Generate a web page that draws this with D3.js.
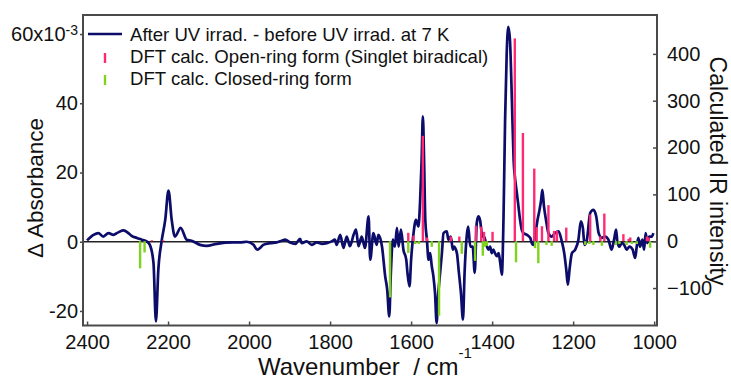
<!DOCTYPE html>
<html>
<head>
<meta charset="utf-8">
<script src="https://cdn.jsdelivr.net/npm/d3@7"></script>
<style>
  body { margin: 0; background: #fff; }
  text { font-family: 'Liberation Sans', Arial, sans-serif; fill: #111; }
</style>
</head>
<body>
<div id="chart"></div>
<script>
// measured spectrum: wavenumber (cm-1) and delta absorbance (x10^-3)
const specWn = [2400, 2384, 2372, 2360, 2347, 2335, 2323, 2310, 2298, 2290, 2277, 2265, 2253, 2245, 2236, 2230, 2224, 2216, 2207, 2199,
  2191, 2183, 2169, 2154, 2142, 2121, 2105, 2080, 2039, 2022, 2006, 1989, 1980, 1973, 1965, 1948, 1932, 1919, 1911, 1899,
  1886, 1874, 1870, 1858, 1845, 1833, 1821, 1808, 1796, 1788, 1784, 1775, 1767, 1759, 1751, 1742, 1736, 1730, 1722, 1714,
  1705, 1701, 1693, 1685, 1681, 1672, 1664, 1659, 1654, 1650, 1645, 1640, 1635, 1631, 1625, 1619, 1612, 1609, 1604, 1600,
  1594, 1588, 1582, 1578, 1574, 1571, 1568, 1565, 1561, 1557, 1553, 1549, 1545, 1541, 1537, 1534, 1530, 1524, 1520, 1512,
  1508, 1502, 1497, 1494, 1487, 1482, 1477, 1472, 1468, 1462, 1459, 1454, 1448, 1443, 1438, 1434, 1430, 1424, 1420, 1413,
  1409, 1405, 1401, 1397, 1393, 1388, 1384, 1380, 1376, 1372, 1368, 1364, 1360, 1356, 1351, 1347, 1343, 1339, 1335, 1331,
  1327, 1323, 1314, 1306, 1302, 1298, 1294, 1288, 1283, 1279, 1276, 1272, 1267, 1261, 1253, 1245, 1236, 1228, 1222, 1217,
  1213, 1209, 1203, 1195, 1187, 1181, 1176, 1172, 1166, 1158, 1150, 1143, 1137, 1129, 1121, 1113, 1105, 1099, 1094, 1091,
  1086, 1080, 1074, 1068, 1061, 1053, 1047, 1043, 1039, 1035, 1029, 1025, 1021, 1017, 1012, 1006, 1002];
const specAbs = [0.4, 2.0, 2.5, 1.5, 2.5, 2.0, 2.7, 3.3, 2.5, 1.7, 1.1, 0.6, 0.1, -0.9, -6.1, -23, -8, 0.1, 6.3, 14.8,
  6.3, 1.5, 4.0, 0.6, 0.3, -0.9, -1.2, -0.6, -0.2, -0.2, 0.0, -0.9, -2.3, -1.8, -0.9, -0.4, -0.2, 0.3, 0.6, -0.2,
  -0.6, 0.8, -0.4, 0.1, -0.9, -0.2, -0.6, -0.4, 0.1, 0.6, -0.9, 2.0, -1.8, 1.5, -1.3, 2.0, 3.5, -1.3, 1.5, -1.8,
  7.3, -5.2, 2.5, -0.9, 2.0, -1.3, -10, -13.9, -21.6, -9, 0.6, -1.4, 4.0, -1.4, 3.5, -2.3, -5.2, -9, -12.9, -5.2,
  2.5, 6.3, 4.4, 11.2, 23.7, 36.2, 23.7, 6.3, 0.6, -5.2, -3.3, -7.1, -10, -14.8, -23.5, -16.7, -11, -3.3, 2.5, 3.0,
  0.6, 1.5, -2.3, -1.4, -3.3, -9, -14.8, -22.5, -9, 2.5, 4.4, -1.4, -1.4, -9, 5.4, 7.3, 6.3, 1.5, 1.5, -1.4,
  -2.3, -1.4, -3.3, -2.3, -3.3, -4.2, -3.3, -6.1, -9.5, 6.3, 35.2, 54.5, 62.1, 58.3, 40, 23.7, 17.9, 14.1, 10.2, 6.3,
  3.5, 2.5, 2.0, 1.1, -0.4, -0.9, 1.5, 6.3, 9.2, 12.1, 15, 10.2, 6.3, 2.5, 1.5, 2.5, 3.0, 0.1, -3.3, -8.1,
  -12.4, -8.1, -3.3, -2.3, 0.6, 5.9, 4.0, -0.9, 0.6, 8.3, 9.2, 7.3, 2.5, 1.1, 1.5, 0.6, -2.3, 0.6, 3.5, 0.1,
  -1.4, -0.4, -0.9, -2.3, -1.4, -2.3, -4.7, -1.4, 1.1, -1.4, 0.6, -2.3, 2.5, -0.4, 1.5, 1.5, 2.5];

// DFT open-ring form (singlet biradical), calculated IR intensity
const openWn = [2240, 2212, 1607, 1594, 1571, 1561, 1502, 1481, 1440, 1427, 1420, 1399, 1344, 1324, 1296, 1290, 1277, 1261,
  1247, 1240, 1217, 1158, 1133, 1123, 1076, 1063, 1059, 1018, 1014];
const openInt = [2, 2, 18, 12, 225, 8, 10, 10, 33, 31, 20, 20, 433, 231, 155, 30, 32, 77,
  22, 22, 29, 57, 10, 59, 15, 5, 8, 10, 8];

// DFT closed-ring form (plotted downward)
const closedWn = [2269, 2258, 1652, 1607, 1590, 1581, 1549, 1531, 1475, 1442, 1423, 1418, 1413, 1341, 1294, 1286, 1266, 1253,
  1170, 1160, 1150, 1129, 1094, 1086, 1068, 1055, 1043, 1010];
const closedInt = [-58, -24, -120, -25, -6, -6, -12, -159, -27, -42, -31, -12, -10, -45, -15, -47, -8, -10,
  -8, -6, -8, -10, -8, -6, -8, -6, -6, -14];

const xTicks = [2400, 2200, 2000, 1800, 1600, 1400, 1200, 1000];
const leftTicks = [-20, 0, 20, 40, 60];
const rightTicks = [-100, 0, 100, 200, 300, 400];
const legendLabels = ['After UV irrad. - before UV irrad. at 7 K',
  'DFT calc. Open-ring form (Singlet biradical)',
  'DFT calc. Closed-ring form'];

const colors = { line: '#0c0c6a', open: '#ff2a74', closed: '#7fd31e', frame: '#4a4a4a' };

function drawChart() {
  const width = 731, height = 379;
  const plot = { left: 83, right: 657, top: 15, bottom: 325.5 };

  const svg = d3.select('#chart').append('svg')
    .attr('width', width)
    .attr('height', height);

  const x = d3.scaleLinear().domain([2410, 993]).range([plot.left, plot.right]);
  const yL = d3.scaleLinear().domain([-24.2, 65.5]).range([plot.bottom, plot.top]);
  const yR = d3.scaleLinear().domain([-180, 483]).range([plot.bottom, plot.top]);

  /* zero line */
  svg.append('line')
    .attr('x1', plot.left).attr('x2', plot.right)
    .attr('y1', yL(0)).attr('y2', yL(0))
    .attr('stroke', '#222').attr('stroke-width', 1.3);

  /* spectrum */
  const spec = specWn.map((w, i) => ({ w: w, v: specAbs[i] }));
  svg.append('path')
    .datum(spec)
    .attr('fill', 'none')
    .attr('stroke', colors.line)
    .attr('stroke-width', 2.7)
    .attr('stroke-linejoin', 'round')
    .attr('d', d3.line().x(d => x(d.w)).y(d => yL(d.v)).curve(d3.curveMonotoneX));

  /* calculated sticks */
  addSticks(svg, closedWn, closedInt, colors.closed, x, yR);
  addSticks(svg, openWn, openInt, colors.open, x, yR);

  /* frame */
  svg.append('rect')
    .attr('x', plot.left).attr('y', plot.top)
    .attr('width', plot.right - plot.left).attr('height', plot.bottom - plot.top)
    .attr('fill', 'none').attr('stroke', colors.frame).attr('stroke-width', 2);

  addAxes(svg, plot, x, yL, yR);
  addLegends(svg);
}

function addSticks(svg, wn, vals, color, x, y) {
  svg.append('g').selectAll('line')
    .data(wn)
    .enter()
    .append('line')
    .attr('x1', d => x(d)).attr('x2', d => x(d))
    .attr('y1', y(0))
    .attr('y2', (d, i) => y(vals[i]))
    .attr('stroke', color)
    .attr('stroke-width', 2.4);
}

function addAxes(svg, plot, x, yL, yR) {
  const bottom = svg.append('g')
    .attr('transform', 'translate(0,' + plot.bottom + ')')
    .call(d3.axisBottom(x).tickValues(xTicks).tickSizeInner(-4).tickSizeOuter(0).tickPadding(9)
      .tickFormat(d3.format('d')));

  const left = svg.append('g')
    .attr('transform', 'translate(' + plot.left + ',0)')
    .call(d3.axisLeft(yL).tickValues(leftTicks).tickSizeInner(3).tickSizeOuter(0).tickPadding(2)
      .tickFormat(d => d === 60 ? '60x10' : d));

  const right = svg.append('g')
    .attr('transform', 'translate(' + plot.right + ',0)')
    .call(d3.axisRight(yR).tickValues(rightTicks).tickSizeInner(-4).tickSizeOuter(0).tickPadding(10));

  [bottom, left, right].forEach(g => {
    g.select('.domain').remove();
    g.selectAll('.tick line').attr('stroke', colors.frame).attr('stroke-width', 1.5);
    g.selectAll('.tick text').attr('font-size', 20).attr('fill', '#111');
  });

  // superscript on the top left tick
  left.selectAll('.tick text')
    .filter(d => d === 60)
    .append('tspan')
    .attr('dy', '-0.45em')
    .attr('font-size', 14)
    .text('-3');

  // axis titles
  svg.append('text')
    .attr('x', 258).attr('y', 375)
    .attr('font-size', 24)
    .text('Wavenumber\u00a0 / cm')
    .append('tspan')
    .attr('dy', -17)
    .attr('font-size', 15)
    .text('-1');

  svg.append('text')
    .attr('transform', 'translate(43,188) rotate(-90)')
    .attr('text-anchor', 'middle')
    .attr('font-size', 22.5)
    .text('\u0394 Absorbance');

  svg.append('text')
    .attr('transform', 'translate(710,171) rotate(90)')
    .attr('text-anchor', 'middle')
    .attr('font-size', 23)
    .text('Calculated IR intensity');
}

function addLegends(svg) {
  const g = svg.append('g');
  const rows = [41, 63, 85];

  g.append('line')
    .attr('x1', 88).attr('x2', 122).attr('y1', 34).attr('y2', 34)
    .attr('stroke', colors.line).attr('stroke-width', 2.5);
  g.append('line')
    .attr('x1', 105).attr('x2', 105).attr('y1', 53).attr('y2', 63)
    .attr('stroke', colors.open).attr('stroke-width', 2.4);
  g.append('line')
    .attr('x1', 105).attr('x2', 105).attr('y1', 75).attr('y2', 85)
    .attr('stroke', colors.closed).attr('stroke-width', 2.4);

  g.selectAll('.leg')
    .data(legendLabels)
    .enter()
    .append('text')
    .attr('class', 'leg')
    .attr('x', 130)
    .attr('y', (d, i) => rows[i])
    .attr('font-size', 18.6)
    .text(d => d);
}

drawChart();
</script>
</body>
</html>
